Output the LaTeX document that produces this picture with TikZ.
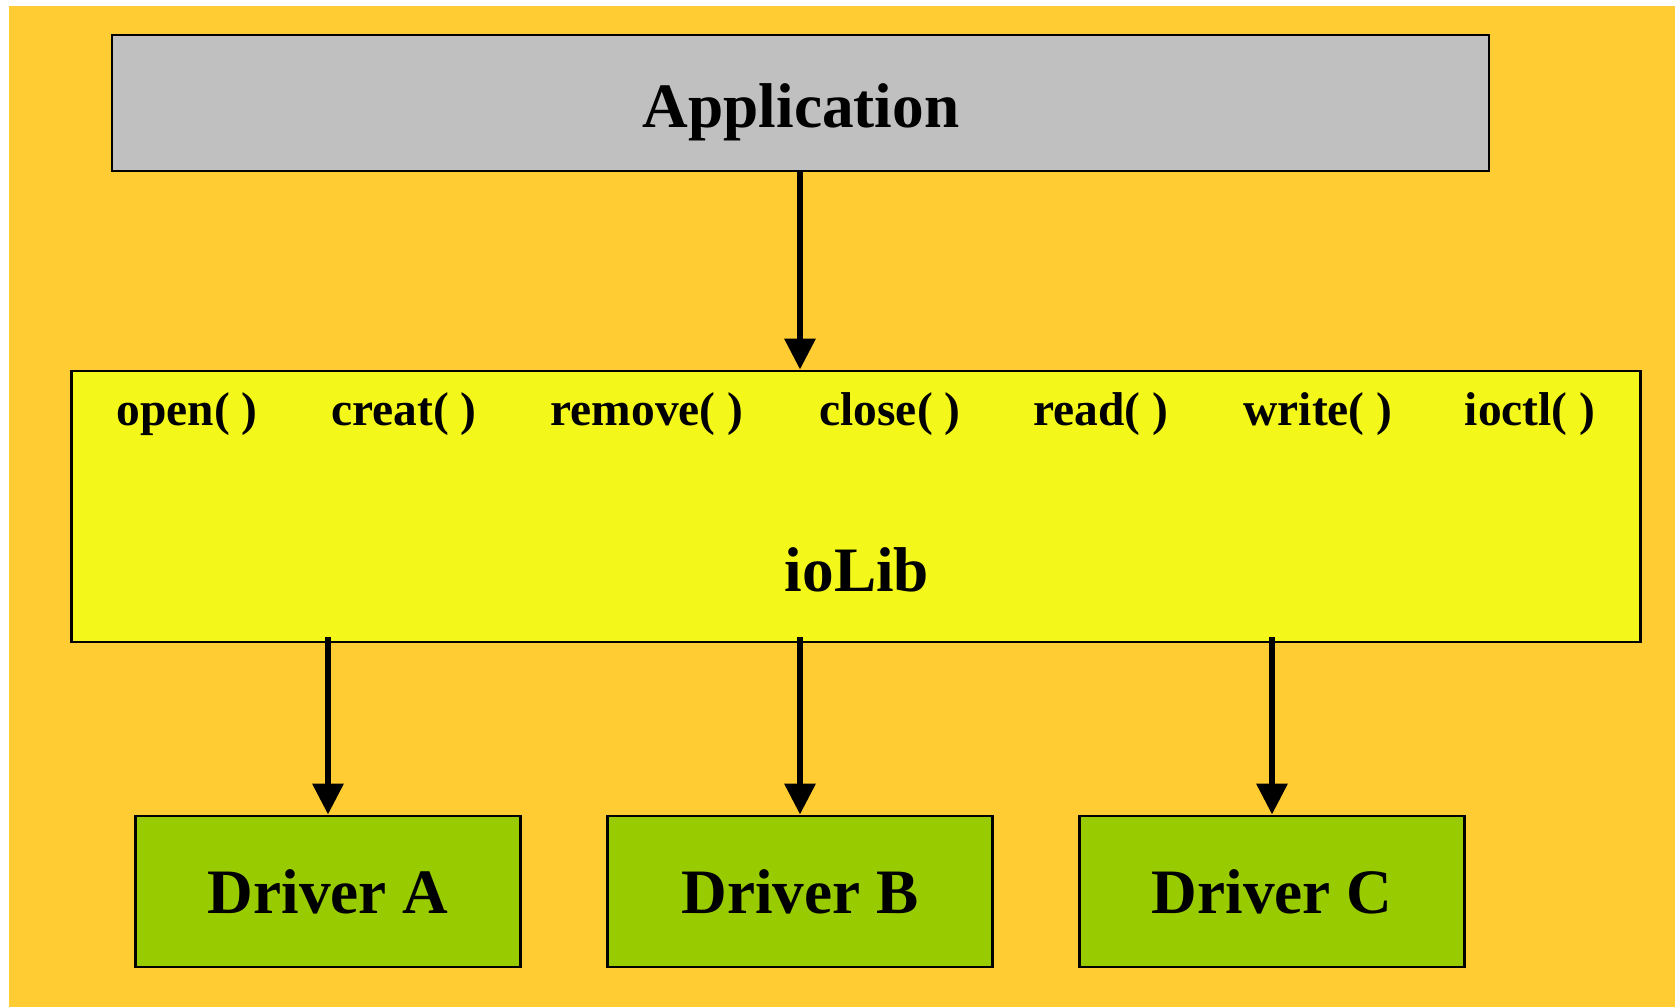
\documentclass[tikz,border=0pt]{standalone}
\usepackage{fontspec}
\setmainfont{Liberation Serif}
\usepackage{xcolor}
\definecolor{bgorange}{RGB}{255,204,51}
\definecolor{appgray}{RGB}{192,192,192}
\definecolor{libyellow}{RGB}{244,247,26}
\definecolor{drvgreen}{RGB}{153,204,0}
\usetikzlibrary{arrows.meta,positioning,calc}

\begin{document}
\begin{tikzpicture}[
    x=0.1mm, y=-0.1mm,
    font=\bfseries\fontsize{18}{22}\selectfont,
    box/.style={rectangle, draw=black, line width=0.8pt, inner sep=0pt},
    arrow/.style={-{Triangle[width=3mm,length=3.1mm]}, line width=1.8pt},
    fn/.style={font=\bfseries\fontsize{13.5}{16}\selectfont, inner sep=0pt},
]
\useasboundingbox (0,0) rectangle (1675,1007);
\fill[bgorange] (9,6) rectangle (1675,1007);

% Application
\node[box, fill=appgray, minimum width=137.7mm, minimum height=13.6mm] (app) at (800.5,103) {};
\node (apptxt) at (801,112) {Application};

% ioLib with its calls
\node[box, fill=libyellow, minimum width=156.9mm, minimum height=27.1mm] (iolib) at (856,506.5) {};
\node[fn] (fopen) at (187,414) {open( )};
\node[fn] (fcreat) at (404,414) {creat( )};
\node[fn] (fremove) at (647,414) {remove( )};
\node[fn] (fclose) at (890,414) {close( )};
\node[fn] (fread) at (1101,414) {read( )};
\node[fn] (fwrite) at (1318,414) {write( )};
\node[fn] (fioctl) at (1530,414) {ioctl( )};
\node (libtxt) at (857,570) {ioLib};

% Drivers
\node[box, fill=drvgreen, minimum width=38.5mm, minimum height=15.1mm] (drva) at (328,891.5) {Driver A};
\node[box, fill=drvgreen, minimum width=38.5mm, minimum height=15.1mm] (drvb) at (800,891.5) {Driver B};
\node[box, fill=drvgreen, minimum width=38.5mm, minimum height=15.1mm] (drvc) at (1272,891.5) {Driver C};

\draw[arrow] (app.south -| 800,0) -- (iolib.north -| 800,0);
\draw[arrow] ([yshift=0.6mm]iolib.south -| drva.north) -- (drva.north);
\draw[arrow] ([yshift=0.6mm]iolib.south -| drvb.north) -- (drvb.north);
\draw[arrow] ([yshift=0.6mm]iolib.south -| drvc.north) -- (drvc.north);

\end{tikzpicture}
\end{document}
